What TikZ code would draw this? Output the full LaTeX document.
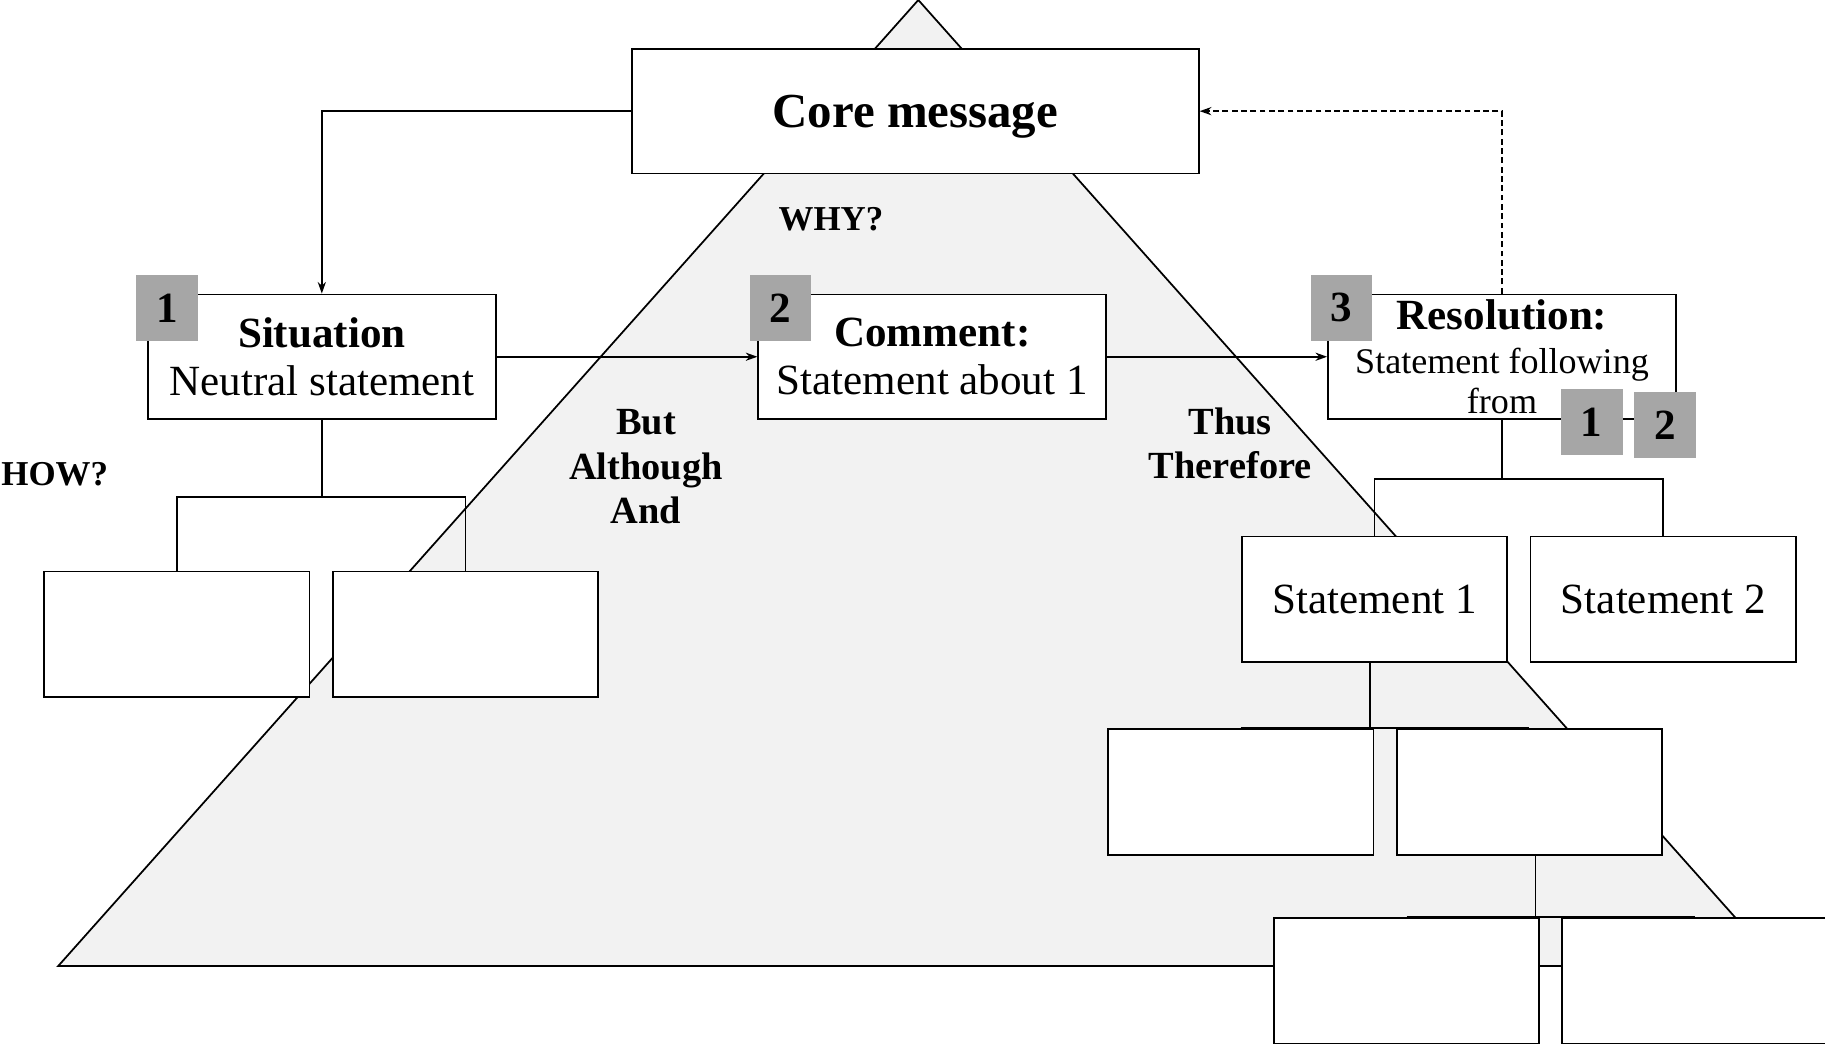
\documentclass[tikz,border=0pt]{standalone}
\usepackage{fontspec}
\setmainfont{Liberation Serif}
\usetikzlibrary{arrows.meta}

\definecolor{pyramid}{HTML}{F2F2F2}
\definecolor{badgegray}{HTML}{A6A6A6}

\tikzset{
  box/.style={draw, fill=white, line width=1.5pt, inner sep=0pt, align=center,
    font=\fontsize{37}{41}\selectfont},
  bigbox/.style={box, minimum width=487pt, minimum height=107pt, text depth=0pt,
    font=\fontsize{42}{46}\selectfont\bfseries},
  midbox/.style={box, minimum width=299pt, minimum height=107pt},
  leaf/.style={box, minimum width=228pt, minimum height=108pt},
  badge/.style={fill=badgegray, minimum width=53pt, minimum height=57pt,
    inner sep=0pt, font=\fontsize{37}{41}\selectfont\bfseries},
  link/.style={line width=1.5pt},
  arr/.style={link, -{Stealth[length=10pt,width=7pt]}},
  cue/.style={font=\fontsize{33}{38.5}\selectfont\bfseries, align=center},
  ask/.style={font=\fontsize{30}{34}\selectfont\bfseries},
}

\begin{document}
\begin{tikzpicture}[x=1pt,y=-1pt]
  \useasboundingbox (0,0) rectangle (1568,897);
  % pyramid
  \coordinate (top) at (789,0);
  \coordinate (bl) at (50,830);
  \coordinate (br) at (1528,830);
  \filldraw[fill=pyramid, line width=1.5pt] (top) -- (bl) -- (br) -- cycle;

  % top message and the three steps
  \node[bigbox] (core) at (786.5,95.5) {Core message};
  \node[midbox] (sit) at (276.5,306.5) {\textbf{Situation}\\Neutral statement};
  \node[midbox] (com) at (801,306.5) {\textbf{Comment:}\\Statement about 1};
  \node[midbox] (res) at (1290.5,306.5)
    {\textbf{Resolution:}\\[-3pt]{\fontsize{31}{35}\selectfont Statement following}\\[-7pt]{\fontsize{31}{35}\selectfont from}};

  % tree boxes
  \node[leaf] (a1) at (152,545) {};
  \node[leaf] (a2) at (400,545) {};
  \node[leaf] (s1) at (1181,515) {Statement 1};
  \node[leaf] (s2) at (1429,515) {Statement 2};
  \node[leaf] (b1) at (1066,680.5) {};
  \node[leaf] (b2) at (1314,680.5) {};
  \node[leaf] (d1) at (1208.5,842.5) {};
  \node[leaf] (d2) at (1456,842.5) {};

  % connectors
  \draw[arr] (core.west) -| (sit.north);
  \draw[arr] (sit.east) -- (com.west);
  \draw[arr] (com.east) -- (res.west);
  \draw[arr, dash pattern=on 5pt off 3pt] (res.north) |- (core.east);
  \draw[link] (sit.south) -- ++(0,66) coordinate (hL);
  \draw[link] (a1.north) |- (hL) -| (a2.north);
  \draw[link] (res.south) -- ++(0,51) coordinate (hR);
  \draw[link] (s1.north) |- (hR) -| (s2.north);
  \draw[link] ([xshift=-4pt]b1.north east) -- ([xshift=-4pt]b1.north east |- s1.south);
  \draw[link] (b1.north) -- (b2.north);
  \draw[link] ([xshift=-4pt]d1.north east) -- ([xshift=-4pt]d1.north east |- b2.south);
  \draw[link] (d1.north) -- (d2.north);

  % number badges
  \node[badge] (n1) at (143.5,264.5) {1};
  \node[badge] (n2) at (670.5,264.5) {2};
  \node[badge] (n3) at (1152.5,264.5) {3};
  \node[badge] (r1) at (1367.5,362.5) {1};
  \node[badge] (r2) at (1430.5,365) {2};

  % cue words
  \node[ask] (why) at (714,188) {WHY?};
  \node[ask] (how) at (47,407) {HOW?};
  \node[cue] (but) at (555,401) {But\\Although\\And};
  \node[cue] (thus) at (1057,381) {Thus\\Therefore};
\end{tikzpicture}
\end{document}
